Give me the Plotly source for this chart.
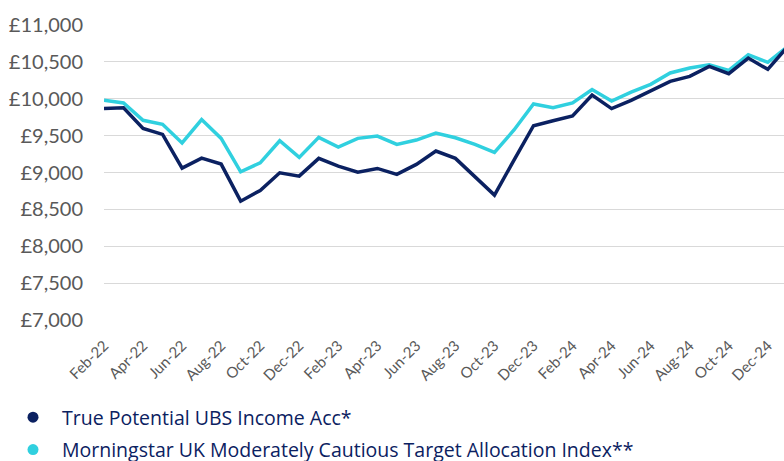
import plotly.graph_objects as go

months = ["Feb-22", "Mar-22", "Apr-22", "May-22", "Jun-22", "Jul-22", "Aug-22", "Sep-22",
          "Oct-22", "Nov-22", "Dec-22", "Jan-23", "Feb-23", "Mar-23", "Apr-23", "May-23",
          "Jun-23", "Jul-23", "Aug-23", "Sep-23", "Oct-23", "Nov-23", "Dec-23", "Jan-24",
          "Feb-24", "Mar-24", "Apr-24", "May-24", "Jun-24", "Jul-24", "Aug-24", "Sep-24",
          "Oct-24", "Nov-24", "Dec-24", "Jan-25"]

ubs_income = [9865, 9875, 9595, 9515, 9060, 9195, 9114, 8612,
              8757, 8996, 8951, 9191, 9087, 9005, 9055, 8974,
              9110, 9290, 9191, 8942, 8694, 9168, 9633, 9701,
              9765, 10049, 9865, 9977, 10112, 10234, 10301, 10436,
              10338, 10549, 10396, 10700]

morningstar_index = [9977, 9941, 9707, 9653, 9400, 9716, 9462, 9010,
                     9131, 9430, 9205, 9476, 9345, 9462, 9493, 9381,
                     9439, 9534, 9470, 9381, 9272, 9575, 9927, 9877,
                     9941, 10122, 9968, 10089, 10193, 10347, 10414, 10459,
                     10382, 10594, 10491, 10700]

series_names = ["True Potential UBS Income Acc*",
                "Morningstar UK Moderately Cautious Target Allocation Index**"]

y_ticks = [7000, 7500, 8000, 8500, 9000, 9500, 10000, 10500, 11000]
y_ticktext = ["£7,000", "£7,500", "£8,000", "£8,500", "£9,000", "£9,500",
              "£10,000", "£10,500", "£11,000"]

DARK = "#0b2161"
LIGHT = "#30d0df"
GREY = "#595959"

fig = go.Figure()
fig.add_trace(go.Scatter(x=months, y=morningstar_index, mode="lines",
                         line=dict(color=LIGHT, width=3.5), showlegend=False))
fig.add_trace(go.Scatter(x=months, y=ubs_income, mode="lines",
                         line=dict(color=DARK, width=3.5), showlegend=False))
for i, (name, col) in enumerate(zip(series_names, [DARK, LIGHT])):
    fig.add_trace(go.Scatter(x=[None], y=[None], mode="markers", name=name,
                             legendgroup=f"g{i}",
                             marker=dict(color=col, size=11, symbol="circle")))

fig.update_layout(
    width=784, height=461,
    margin=dict(l=104, r=0, t=23.5, b=140, autoexpand=False),
    paper_bgcolor="white", plot_bgcolor="white",
    font=dict(family="Lato, sans-serif", color=GREY),
    legend=dict(xref="container", yref="container", x=4 / 784, y=1 - 398 / 461,
                xanchor="left", yanchor="top",
                font=dict(family="Open Sans, sans-serif", size=19.5, color=DARK),
                tracegroupgap=4, itemwidth=48, bgcolor="rgba(0,0,0,0)"),
    showlegend=True,
)
fig.update_xaxes(
    type="category", range=[0, 34.83],
    tickmode="array", tickvals=months[::2], ticktext=months[::2],
    tickangle=-45, tickfont=dict(size=15, color=GREY), ticklabelstandoff=12,
    showgrid=False, showline=False, ticks="", zeroline=False,
)
fig.update_yaxes(
    range=[6990, 11010], tickmode="array", tickvals=y_ticks, ticktext=y_ticktext,
    tickfont=dict(size=20, color=GREY), gridcolor="#d9d9d9", gridwidth=1,
    showline=False, zeroline=False, ticks="", ticklabelstandoff=20,
)

fig.write_html("out.html", config={"displayModeBar": False},
               post_script="document.body.style.margin='0px';")
